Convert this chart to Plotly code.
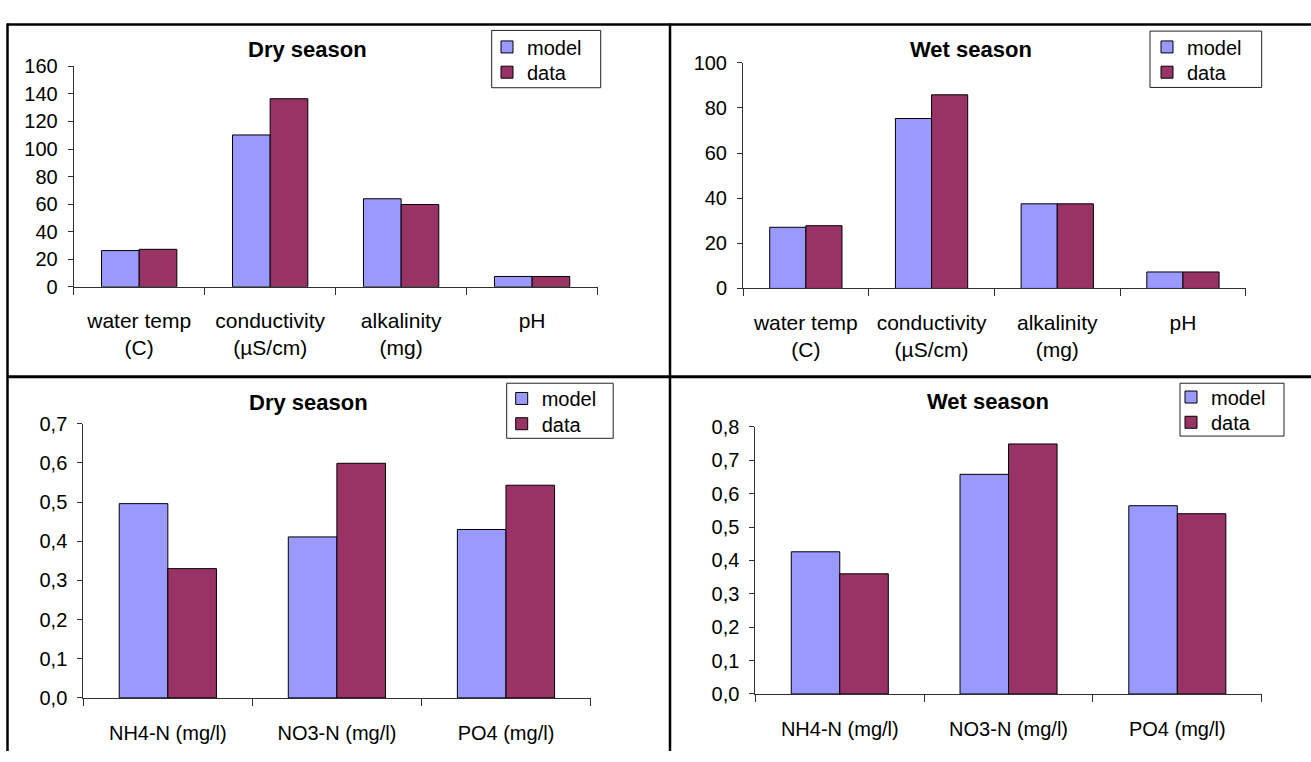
import plotly.graph_objects as go

W, H = 1311, 762

cats_top = ["water temp<br>(C)", "conductivity<br>(µS/cm)", "alkalinity<br>(mg)", "pH"]
cats_bot = ["NH4-N (mg/l)", "NO3-N (mg/l)", "PO4 (mg/l)"]

dry_top_model = [26.3, 110.2, 63.9, 7.5]
dry_top_data = [27.2, 136.5, 59.7, 7.5]
wet_top_model = [27.1, 75.3, 37.5, 7.3]
wet_top_data = [27.8, 85.8, 37.5, 7.3]
dry_bot_model = [0.496, 0.411, 0.430]
dry_bot_data = [0.330, 0.599, 0.543]
wet_bot_model = [0.426, 0.658, 0.564]
wet_bot_data = [0.360, 0.749, 0.540]

titles = ["Dry season", "Wet season", "Dry season", "Wet season"]
series_names = ["model", "data"]

MODEL_C = "#9999FF"
DATA_C = "#993366"
FONT = "Liberation Sans, Arial, sans-serif"

# pixel layout of plot areas: (x_left, x_right, y_top, y_bottom)
areas = [
    (73.7, 597.6, 57.0, 284.0),
    (743.0, 1245.8, 53.3, 285.7),
    (83.3, 590.5, 425.0, 707.3),
    (755.4, 1261.7, 428.3, 703.3),
]
yranges = [[0, 160], [0, 100], [0, 0.7], [0, 0.8]]
dticks = [20, 20, 0.1, 0.1]
tickfmts = ["d", "d", ".1f", ".1f"]
xfont = [21, 21, 20, 20]
xstand = [15, 15, 17, 17]
title_pos = [(307, 40), (971, 40), (308.5, 402.7), (987.6, 401.7)]
# legend frame boxes (x0, x1, y0, y1), text start x, entry centre ys, font size
legend_box = [(491.7, 600.7, 20.0, 79.0), (1150, 1261.7, 20.7, 78.7),
              (506.7, 613.2, 383.3, 440.0), (1180, 1284, 383.3, 437.7)]
legend_text_x = [527, 1187, 541.7, 1211]
legend_rows = [(37.0, 63.0), (37.0, 63.0), (399.0, 425.0), (397.5, 423.5)]
legend_font = [20, 20, 20, 20]

panels = [
    (cats_top, dry_top_model, dry_top_data),
    (cats_top, wet_top_model, wet_top_data),
    (cats_bot, dry_bot_model, dry_bot_data),
    (cats_bot, wet_bot_model, wet_bot_data),
]

fig = go.Figure()
layout = dict(
    width=W, height=H,
    margin=dict(l=0, r=0, t=0, b=0),
    paper_bgcolor="white", plot_bgcolor="white",
    font=dict(family=FONT, size=20, color="black"),
    separators=",.",
    bargap=0.425, bargroupgap=0,
    barmode="group",
    showlegend=True,
)

annotations = []
shapes = []
for i, (cats, m, d) in enumerate(panels):
    n = "" if i == 0 else str(i + 1)
    leg_m = "legend" + ("" if i == 0 else str(2 * i + 1))
    leg_d = "legend" + str(2 * i + 2)
    xa, ya = "x" + n, "y" + n
    fig.add_trace(go.Bar(x=cats, y=m, name=series_names[0], xaxis=xa, yaxis=ya,
                         marker=dict(color=MODEL_C, line=dict(color="black", width=1)),
                         legend=leg_m))
    fig.add_trace(go.Bar(x=cats, y=d, name=series_names[1], xaxis=xa, yaxis=ya,
                         marker=dict(color=DATA_C, line=dict(color="black", width=1)),
                         legend=leg_d))
    xl, xr, yt, yb = areas[i]
    layout["xaxis" + n] = dict(
        domain=[xl / W, xr / W], anchor=ya, type="category",
        showline=True, linecolor="#303030", linewidth=1,
        ticks="outside", tickson="boundaries", ticklen=7, tickcolor="#303030",
        showgrid=False, zeroline=False, tickfont=dict(size=xfont[i]),
        ticklabelstandoff=xstand[i],
    )
    layout["yaxis" + n] = dict(
        domain=[1 - yb / H, 1 - yt / H], anchor=xa, range=yranges[i],
        dtick=dticks[i], tick0=0, tickformat=tickfmts[i],
        showline=True, linecolor="#303030", linewidth=1,
        ticks="outside", ticklen=5, tickcolor="#303030",
        showgrid=False, zeroline=False, tickfont=dict(size=20),
        ticklabelstandoff=6,
    )
    lx = legend_text_x[i] - 40
    for leg, ry in zip((leg_m, leg_d), legend_rows[i]):
        layout[leg] = dict(
            x=lx / W, y=1 - ry / H, xanchor="left", yanchor="middle",
            borderwidth=0, bgcolor="rgba(0,0,0,0)",
            font=dict(size=legend_font[i]), itemwidth=30, tracegroupgap=0,
        )
    bx0, bx1, by0, by1 = legend_box[i]
    shapes.append(dict(type="rect", xref="paper", yref="paper",
                       x0=bx0 / W, x1=bx1 / W, y0=1 - by1 / H, y1=1 - by0 / H,
                       line=dict(color="#202020", width=1), fillcolor="rgba(0,0,0,0)"))
    tx, ty = title_pos[i]
    annotations.append(dict(
        x=tx / W, y=1 - ty / H, xref="paper", yref="paper",
        text="<b>" + titles[i] + "</b>", showarrow=False,
        xanchor="center", yanchor="middle", font=dict(size=22),
    ))

layout["annotations"] = annotations


def hline(y, x0, x1, w):
    return dict(type="line", xref="paper", yref="paper",
                x0=x0 / W, x1=x1 / W, y0=1 - y / H, y1=1 - y / H,
                line=dict(color="black", width=w))


def vline(x, y0, y1, w):
    return dict(type="line", xref="paper", yref="paper",
                x0=x / W, x1=x / W, y0=1 - y0 / H, y1=1 - y1 / H,
                line=dict(color="black", width=w))


shapes += [
    hline(14, 7, W, 2.5),
    hline(376.5, 7, W, 3),
    vline(7.5, 13, H, 2.5),
    vline(670, 13, H, 2.5),
]
layout["shapes"] = shapes

fig.update_layout(**layout)
fig.write_html("out.html")
